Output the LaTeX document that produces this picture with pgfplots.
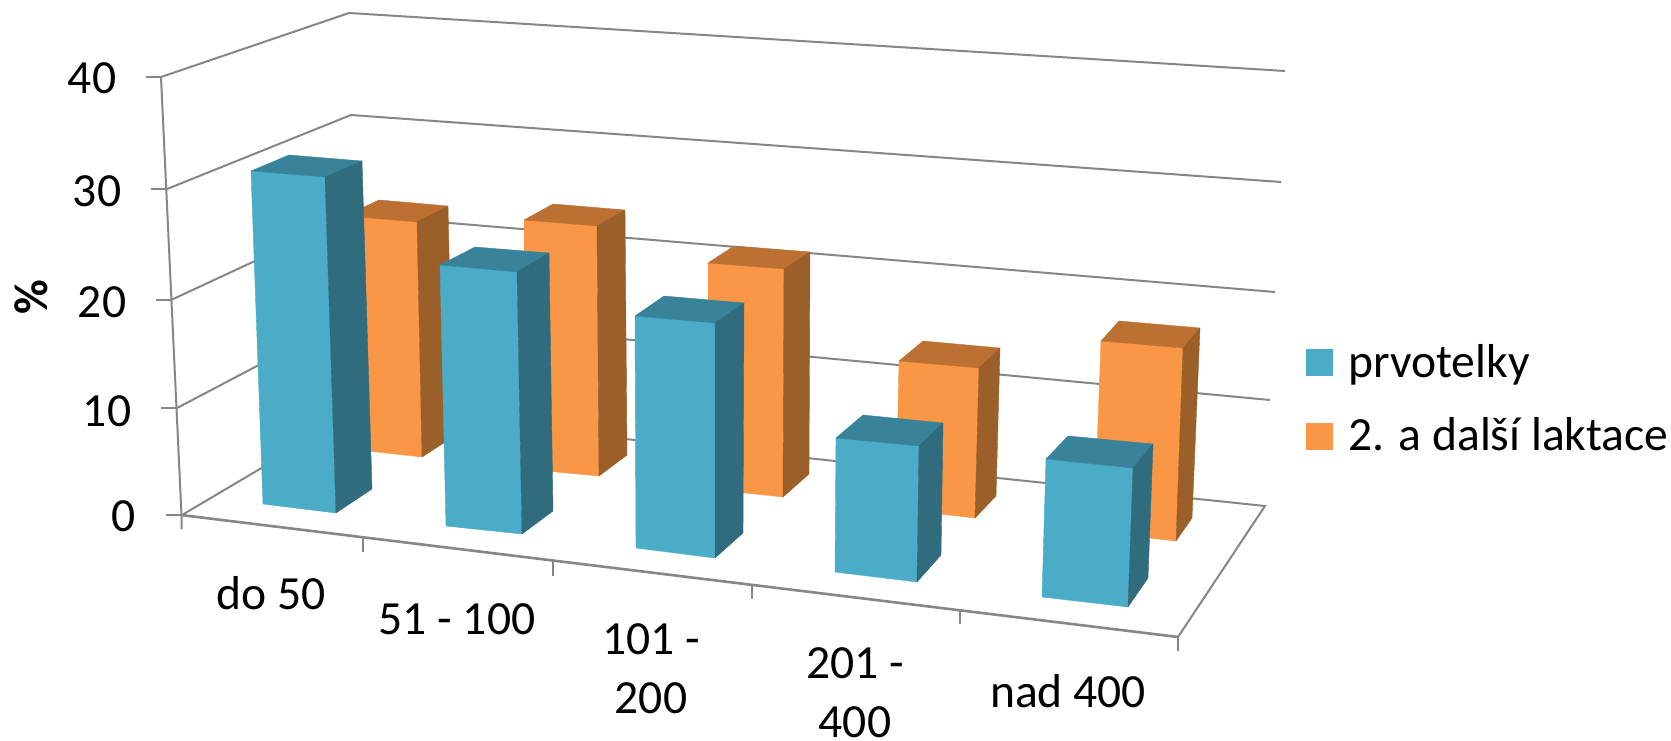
\documentclass[border=0pt]{standalone}
\usepackage{fontspec}
\setmainfont{Carlito}
\usepackage{pgfplots}
\pgfplotsset{compat=1.18}

\definecolor{wallgrey}{HTML}{868686}
\definecolor{blueFront}{HTML}{4AACC6}
\definecolor{blueTop}{HTML}{38839A}
\definecolor{blueSide}{HTML}{306C7D}
\definecolor{orangeFront}{HTML}{F99746}
\definecolor{orangeTop}{HTML}{BC7133}
\definecolor{orangeSide}{HTML}{9B5F2A}

% One face of a column
\newcommand{\face}[2]{\addplot[fill=#1,draw=#1,line width=0.4pt] coordinates {#2} -- cycle;}
% Column: colour prefix, then top corners (front left, front right, back right, back left)
% and bottom corners (front left, front right, back right)
\newcommand{\column}[8]{%
  \face{#1Front}{#2 #3 #7 #6}
  \face{#1Top}{#2 #3 #4 #5}
  \face{#1Side}{#3 #4 #8 #7}
}
\newcommand{\biglabel}{\fontsize{47.6}{52}\selectfont}
\tikzset{
  grid line/.style={wallgrey, line width=2pt, line join=miter},
  edge line/.style={wallgrey, line width=2.6pt, line join=miter},
  tick line/.style={wallgrey, line width=1.6pt},
  lab/.style={anchor=base, inner sep=0pt, font=\biglabel},
}

\begin{document}
\begin{tikzpicture}
\begin{axis}[
  scale only axis, width=1671pt, height=741pt,
  xmin=0, xmax=1671, ymin=0, ymax=741, y dir=reverse,
  hide axis, clip=false, no markers,
]
% page background
\addplot[fill=white, draw=none] coordinates {(0,0) (1671,0) (1671,741) (0,741)} -- cycle;

% walls: value gridlines
\addplot[grid line] coordinates {(161,77) (349,13) (1285,71)};
\addplot[grid line] coordinates {(167,189) (351,115) (1281,182)};
\addplot[grid line] coordinates {(171,300) (354,215) (1275,292)};
\addplot[grid line] coordinates {(177,408) (356,314) (1270,400)};

% floor
\addplot[grid line] coordinates {(182,515) (358,411) (1265,506) (1178,637)};
\addplot[edge line] coordinates {(181,515) (1178,637)};

% value axis with ticks
\addplot[tick line, line width=2pt] coordinates {(161,77) (181.5,515) (181.5,529)};
\addplot[tick line] coordinates {(146,77) (161,77)};
\addplot[tick line] coordinates {(151,189) (167,189)};
\addplot[tick line] coordinates {(156,300) (171,300)};
\addplot[tick line] coordinates {(161,408) (177,408)};
\addplot[tick line] coordinates {(166,515) (182,515)};

% category axis ticks
\addplot[tick line] coordinates {(363,538) (363,552)};
\addplot[tick line] coordinates {(553,562) (553,576)};
\addplot[tick line] coordinates {(752,585) (752,599)};
\addplot[tick line] coordinates {(960,611) (960,624)};
\addplot[tick line] coordinates {(1178,637) (1178,651)};

% rear series: 2. a další laktace
\column{orange}{(345,216)}{(417,222)}{(448,206)}{(379,200)}{(350,449)}{(422,457)}{(453,437)}
\column{orange}{(524,220)}{(597,226)}{(625,210)}{(553,204)}{(524,469)}{(599,476)}{(627,455)}
\column{orange}{(708,263)}{(784,269)}{(810,252)}{(734,246)}{(708,489)}{(783,497)}{(809,474)}
\column{orange}{(899,361)}{(979,368)}{(1000,348)}{(923,341)}{(896,509)}{(975,518)}{(996,496)}
\column{orange}{(1101,341)}{(1183,348)}{(1200,328)}{(1119,321)}{(1094,532)}{(1176,541)}{(1192,518)}

% front series: prvotelky
\column{blue}{(251,171)}{(325,177)}{(362,161)}{(289,155)}{(263,504)}{(336,513)}{(372,489)}
\column{blue}{(440,265)}{(517,272)}{(549,253)}{(475,247)}{(446,526)}{(522,534)}{(553,511)}
\column{blue}{(635,316)}{(715,323)}{(744,303)}{(664,296)}{(636,548)}{(715,558)}{(743,533)}
\column{blue}{(836,438)}{(919,446)}{(943,423)}{(863,415)}{(835,572)}{(917,582)}{(941,555)}
\column{blue}{(1046,459)}{(1133,468)}{(1153,444)}{(1068,436)}{(1042,597)}{(1128,607)}{(1148,578)}

% legend keys
\addplot[fill=blueFront, draw=none] coordinates {(1306,349) (1333,349) (1333,376) (1306,376)} -- cycle;
\addplot[fill=orangeFront, draw=none] coordinates {(1306,423) (1333,423) (1333,450) (1306,450)} -- cycle;

% value labels
\node[lab] at (axis cs:92,94) {40};
\node[lab] at (axis cs:97,206) {30};
\node[lab] at (axis cs:102,317) {20};
\node[lab] at (axis cs:107,426) {10};
\node[lab] at (axis cs:124,531) {0};
\node[rotate=90, inner sep=0pt, font=\biglabel\bfseries] at (axis cs:31,297) {\%};

% category labels
\node[lab] at (axis cs:271,609) {do 50};
\node[lab] at (axis cs:457,634) {51 - 100};
\node[lab] at (axis cs:651,654) {101 -};
\node[lab] at (axis cs:651,713) {200};
\node[lab] at (axis cs:855,678) {201 -};
\node[lab] at (axis cs:855,737) {400};
\node[lab] at (axis cs:1068,707) {nad 400};

% legend entries
\node[lab, anchor=base west] at (axis cs:1348,377) {prvotelky};
\node[lab, anchor=base west] at (axis cs:1348,450) {2. a další laktace};
\end{axis}
\end{tikzpicture}
\end{document}
